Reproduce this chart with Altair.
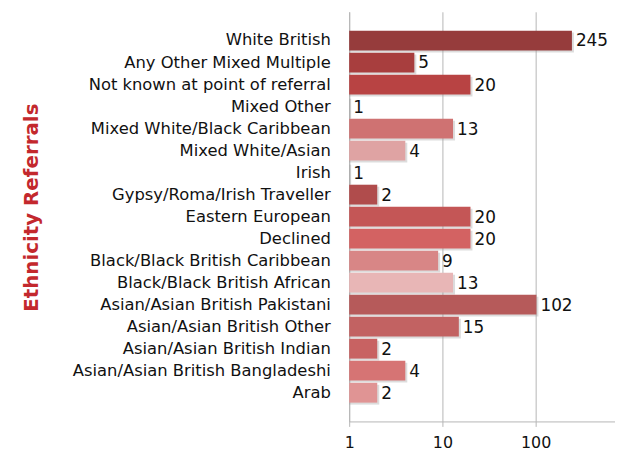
import altair as alt
import pandas as pd

categories = [
    "White British", "Any Other Mixed Multiple", "Not known at point of referral",
    "Mixed Other", "Mixed White/Black Caribbean", "Mixed White/Asian", "Irish",
    "Gypsy/Roma/Irish Traveller", "Eastern European", "Declined",
    "Black/Black British Caribbean", "Black/Black British African",
    "Asian/Asian British Pakistani", "Asian/Asian British Other",
    "Asian/Asian British Indian", "Asian/Asian British Bangladeshi", "Arab",
]
values = [245, 5, 20, 1, 13, 4, 1, 2, 20, 20, 9, 13, 102, 15, 2, 4, 2]
colors = [
    "#963c3c", "#a83e3e", "#b84343", "#b85050", "#cf7272", "#dfa3a3", "#b85050",
    "#b04c4c", "#c45656", "#d36262", "#d88686", "#e8b6b6", "#b65a5a",
    "#c26262", "#c86262", "#d67474", "#e09494",
]
tick_values = [1, 10, 100]

df = pd.DataFrame({"cat": categories, "value": values, "color": colors})
df["base"] = 1

FONT = "DejaVu Sans"

x_scale = alt.Scale(type="log", domain=[1, 710])
y_scale = alt.Scale(domain=categories, paddingInner=0.1, paddingOuter=0.855)

base = alt.Chart(df)

shadow = base.mark_bar(color="#9a9a9a", opacity=0.35, xOffset=2, yOffset=2).encode(
    x=alt.X("value:Q", scale=x_scale),
    x2="base:Q",
    y=alt.Y("cat:N", scale=y_scale),
)

bars = base.mark_bar().encode(
    x=alt.X(
        "value:Q",
        scale=x_scale,
        axis=alt.Axis(
            values=tick_values, title=None, format="d", labelFont=FONT,
            labelFontSize=16, labelColor="#111", labelPadding=8,
            gridColor="#b5b5b5", domainColor="#b5b5b5", tickColor="#b5b5b5",
            tickSize=5, labelFlush=False,
        ),
    ),
    x2="base:Q",
    y=alt.Y(
        "cat:N",
        scale=y_scale,
        sort=categories,
        axis=alt.Axis(
            title="Ethnicity  Referrals", titleFont=FONT, titleFontSize=20,
            titleFontWeight="bold", titleColor="#c3282d", titleAngle=-90,
            titleX=-320, titleY=197, titleAlign="center", titleBaseline="middle",
            labelFont=FONT, labelFontSize=16.5, labelColor="#111",
            labelPadding=19, ticks=False, domainColor="#b5b5b5", grid=False,
            labelLimit=400,
        ),
    ),
    color=alt.Color("color:N", scale=None),
)

labels = base.mark_text(align="left", baseline="middle", dx=4, dy=1, font=FONT,
                        fontSize=17, color="#111").encode(
    x=alt.X("value:Q", scale=x_scale),
    y=alt.Y("cat:N", scale=y_scale),
    text="value:Q",
)

chart = (shadow + bars + labels).properties(
    width=268, height=413,
    autosize=alt.AutoSizeParams(type="none"),
    padding={"left": 344, "top": 2, "right": 0, "bottom": 32},
).configure_view(stroke=None).configure_axis(gridWidth=1)

chart.save("out.html", embed_options={"renderer": "svg", "actions": False})
